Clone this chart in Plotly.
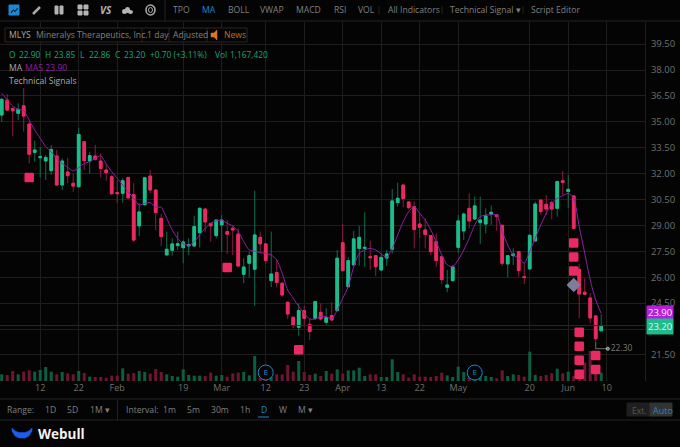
import plotly.graph_objects as go

bars = list(range(110))

opens = [35.39, 36.26, 35.78, 35.49, 35.93, 34.87, 33.23, 32.92, 32.73, 32.17,
         33.02, 31.34, 32.09, 31.44, 31.24, 33.85, 32.73, 33.02, 32.73, 32.21,
         31.82, 30.90, 30.86, 31.78, 30.78, 28.97, 30.20, 31.86, 31.05, 29.41,
         27.29, 27.56, 27.83, 27.71, 27.81, 27.81, 28.58, 29.95, 29.12, 28.41,
         29.03, 28.64, 28.83, 28.50, 26.17, 26.81, 26.46, 28.31, 27.93, 25.80,
         26.27, 25.65, 24.55, 23.68, 23.10, 24.07, 23.27, 23.62, 23.97, 23.39,
         23.78, 24.07, 28.00, 25.45, 26.71, 27.67, 27.67, 27.19, 27.25, 26.42,
         27.11, 27.62, 30.32, 31.34, 30.36, 30.09, 29.08, 28.74, 28.41, 28.06,
         27.19, 25.42, 25.80, 27.73, 28.68, 29.99, 29.37, 29.16, 29.08, 29.66,
         29.61, 29.01, 26.77, 27.25, 27.48, 26.03, 26.48, 28.10, 30.47, 30.22,
         30.32, 29.99, 31.59, 30.96, 30.71, 26.46, 25.13, 24.80, 23.76, 22.90]
highs = [36.40, 36.61, 35.78, 36.07, 36.96, 35.01, 33.91, 33.56, 33.08, 33.66,
         33.37, 32.88, 32.92, 32.01, 34.66, 33.85, 33.27, 33.66, 33.17, 32.56,
         31.92, 31.63, 31.73, 31.78, 31.44, 30.28, 31.82, 32.21, 31.09, 29.66,
         28.64, 28.25, 28.64, 28.16, 28.25, 29.55, 30.05, 29.95, 29.12, 29.35,
         29.60, 29.31, 29.03, 28.83, 27.10, 27.48, 31.01, 28.64, 27.93, 28.64,
         27.00, 25.74, 24.59, 23.72, 24.49, 24.34, 23.62, 24.59, 24.49, 24.20,
         24.55, 27.58, 29.08, 27.15, 28.68, 28.97, 29.76, 28.12, 27.25, 27.38,
         27.58, 31.11, 31.48, 31.34, 30.36, 30.38, 29.70, 29.41, 28.41, 28.54,
         27.19, 26.42, 26.71, 29.60, 29.74, 30.86, 30.67, 30.67, 29.99, 30.15,
         29.61, 29.01, 27.29, 27.68, 27.54, 26.81, 28.45, 30.38, 30.51, 30.76,
         30.44, 31.59, 32.15, 31.92, 30.71, 26.77, 25.94, 25.07, 23.76, 23.85]
lows = [35.01, 35.64, 34.18, 35.10, 34.43, 32.59, 32.69, 31.78, 31.63, 31.92,
        31.30, 31.05, 31.44, 30.95, 31.20, 32.21, 32.01, 32.75, 31.78, 31.59,
        30.76, 30.28, 30.32, 30.57, 28.05, 28.39, 30.18, 30.86, 28.73, 27.81,
        27.29, 27.25, 27.58, 26.81, 27.29, 27.77, 27.73, 28.64, 28.06, 28.25,
        27.48, 27.35, 27.29, 26.61, 25.65, 25.98, 24.34, 27.38, 26.77, 25.42,
        25.42, 24.88, 23.58, 23.04, 22.62, 23.14, 22.37, 23.52, 23.49, 23.24,
        23.52, 24.01, 26.32, 25.42, 26.67, 26.67, 26.61, 26.42, 26.07, 26.36,
        26.65, 27.38, 30.09, 30.05, 29.93, 27.66, 28.25, 27.67, 27.29, 26.61,
        25.59, 25.13, 25.74, 27.42, 28.16, 28.83, 29.31, 27.93, 28.54, 29.03,
        28.70, 26.65, 26.00, 26.71, 26.03, 25.61, 26.46, 28.06, 29.61, 29.61,
        29.35, 29.51, 30.76, 29.99, 28.79, 23.62, 24.97, 23.33, 22.30, 22.86]
closes = [36.30, 35.68, 35.64, 35.72, 35.33, 33.12, 33.37, 32.98, 32.94, 33.40,
          31.34, 32.73, 31.88, 31.28, 34.27, 32.75, 33.04, 32.83, 32.29, 32.05,
          30.84, 30.84, 31.59, 30.59, 28.15, 29.78, 31.76, 31.05, 29.74, 28.35,
          27.62, 27.93, 27.94, 28.04, 27.89, 28.93, 29.99, 29.20, 28.97, 29.31,
          29.31, 28.49, 28.74, 26.65, 26.59, 27.25, 28.45, 27.93, 26.96, 26.19,
          25.69, 24.97, 23.87, 23.20, 24.07, 23.62, 22.85, 24.59, 23.58, 23.66,
          23.52, 27.10, 26.38, 26.96, 28.22, 28.31, 27.73, 27.13, 26.61, 27.15,
          27.35, 30.42, 30.57, 30.55, 30.03, 28.76, 28.89, 28.47, 27.48, 26.96,
          25.86, 25.55, 26.61, 29.26, 29.66, 29.26, 30.13, 29.31, 29.55, 29.76,
          29.51, 26.81, 27.25, 27.35, 26.38, 25.98, 28.43, 30.24, 29.80, 29.95,
          29.95, 31.54, 31.48, 31.09, 28.83, 25.03, 25.01, 23.64, 22.44, 23.20]
ma5 = [36.65, 36.26, 35.91, 35.72, 35.64, 35.10, 34.52, 34.04, 33.56, 33.27,
       32.88, 32.59, 32.36, 32.15, 32.34, 32.59, 32.69, 32.88, 33.04, 32.56,
       32.11, 31.73, 31.34, 30.95, 30.57, 30.18, 30.28, 30.32, 30.05, 30.05,
       29.41, 28.74, 28.25, 27.93, 27.85, 28.06, 28.45, 28.83, 29.12, 29.26,
       29.31, 29.12, 28.97, 28.64, 28.06, 27.58, 27.52, 27.42, 27.38, 27.29,
       27.00, 26.23, 25.26, 24.78, 24.30, 23.91, 23.58, 23.58, 23.72, 23.72,
       23.58, 24.10, 24.78, 25.45, 26.61, 27.38, 27.58, 27.67, 27.58, 27.35,
       27.15, 27.67, 28.45, 29.22, 29.80, 30.09, 29.70, 29.31, 28.74, 28.06,
       27.29, 26.71, 26.61, 27.00, 27.58, 28.25, 29.03, 29.51, 29.60, 29.61,
       29.61, 28.64, 27.87, 27.29, 27.10, 26.81, 27.48, 28.25, 29.03, 29.70,
       30.28, 30.57, 30.72, 30.86, 30.57, 28.93, 27.39, 25.84, 24.68, 23.90]
# thousands of shares
volumes = [930, 840, 1400, 930, 1310, 1490, 1310, 1540, 1960, 1310,
           930, 1260, 1070, 930, 1400, 1120, 610, 560, 560, 470,
           750, 750, 1770, 1030, 1120, 1400, 1260, 1030, 1680, 1260,
           930, 700, 610, 1630, 840, 750, 750, 700, 1170, 750,
           840, 610, 1070, 1170, 1260, 790, 3500, 470, 700, 560,
           930, 930, 2240, 1310, 2800, 1260, 840, 1030, 700, 1400,
           1030, 1630, 1030, 1490, 1490, 1870, 700, 930, 930, 560,
           560, 3040, 1260, 930, 470, 930, 610, 610, 560, 700,
           1170, 790, 560, 2010, 1260, 560, 560, 700, 700, 560,
           370, 1490, 700, 930, 840, 610, 4110, 840, 700, 840,
           1070, 1730, 1070, 1310, 700, 1400, 2570, 4200, 1870, 1167]

date_ticks = [7, 14, 21, 33, 40, 48, 55, 62, 69, 76, 83, 96, 103, 110]
date_labels = ['12', '22', 'Feb', '19', 'Mar', '12', '23', 'Apr', '13', '22', 'May', '20', 'Jun', '10']
price_ticks = [39.5, 38, 36.5, 35, 33.5, 32, 30.5, 29, 27.5, 26, 24.5, 23, 21.5]
price_labels = ['39.50', '38.00', '36.50', '35.00', '33.50', '32.00', '30.50', '29.00',
                '27.50', '26.00', '24.50', '', '21.50']

signal_bars = [5, 41, 54, 104, 104, 104, 105, 105, 105, 105, 108, 108]
signal_prices = [31.78, 26.57, 21.80, 27.98, 27.17, 26.36, 22.81, 22.00, 21.19, 20.38, 21.46, 20.65]
diamond_bar = [104]
diamond_price = [25.55]
earnings_bars = [48, 86]
earnings_prices = [20.48, 20.48]

GREEN = '#1cbc8c'
RED = '#ea2a62'
GREEN_DIM = '#0f6e52'
RED_DIM = '#8c1c42'
GREY = '#808080'
BLUE = '#1f86cf'
W, H = 680, 447


def px(x):
    return x / W


def py(y):
    return 1 - y / H


fig = go.Figure()

vol_colors = ['#0d5d45' if c >= o else '#6c1634' for o, c in zip(opens, closes)]
fig.add_trace(go.Bar(x=bars, y=volumes, marker_color=vol_colors, marker_line_width=0, yaxis='y'))

# thin dark wicks first, bright bodies over them
fig.add_trace(go.Candlestick(x=bars, open=opens, high=highs, low=lows, close=closes, yaxis='y2',
                             whiskerwidth=0,
                             increasing=dict(line=dict(color=GREEN_DIM, width=1), fillcolor=GREEN),
                             decreasing=dict(line=dict(color=RED_DIM, width=1), fillcolor=RED)))
body_high = [max(o, c) for o, c in zip(opens, closes)]
body_low = [min(o, c) for o, c in zip(opens, closes)]
fig.add_trace(go.Candlestick(x=bars, open=opens, high=body_high, low=body_low, close=closes, yaxis='y2',
                             whiskerwidth=0,
                             increasing=dict(line=dict(color=GREEN, width=1), fillcolor=GREEN),
                             decreasing=dict(line=dict(color=RED, width=1), fillcolor=RED)))

fig.add_trace(go.Scatter(x=bars, y=ma5, mode='lines', yaxis='y2',
                         line=dict(color='#8f20a8', width=1, shape='spline', smoothing=0.6)))
fig.add_trace(go.Scatter(x=signal_bars, y=signal_prices, mode='markers', yaxis='y2',
                         marker=dict(symbol='square', size=7, color=RED, line=dict(color=RED, width=2.5))))
fig.add_trace(go.Scatter(x=diamond_bar, y=diamond_price, mode='markers', yaxis='y2',
                         marker=dict(symbol='diamond', size=9, color='#7d7d9c', line=dict(color='#7d7d9c', width=2))))
fig.add_trace(go.Scatter(x=earnings_bars, y=earnings_prices, mode='markers+text', yaxis='y2',
                         text=['E', 'E'], textposition='middle center',
                         textfont=dict(color=BLUE, size=8, family='Open Sans'),
                         marker=dict(symbol='circle', size=15, color='#050505', line=dict(color=BLUE, width=1))))
# day-low callout
fig.add_trace(go.Scatter(x=[108, 108, 110.2], y=[22.27, 21.86, 21.86], mode='lines+markers+text', yaxis='y2',
                         line=dict(color='#8a8a8a', width=0.8),
                         marker=dict(size=[0, 0, 3], color='#8a8a8a'),
                         text=['', '', '22.30'], textposition='middle right',
                         textfont=dict(color='#777777', size=8.5, family='Open Sans')))

fig.update_layout(
    width=W, height=H,
    margin=dict(l=0, r=0, t=0, b=0),
    paper_bgcolor='#040404', plot_bgcolor='#040404',
    showlegend=False, bargap=0.45, boxgap=0.3,
    font=dict(family='Open Sans', color=GREY, size=9),
    xaxis=dict(domain=[0, px(645)], range=[-0.31, 116.96], tickmode='array',
               tickvals=date_ticks, ticktext=date_labels, rangeslider=dict(visible=False),
               showgrid=True, gridcolor='#1e1e1e', gridwidth=1, zeroline=False,
               tickfont=dict(size=9, color='#707070'), ticks=''),
    yaxis=dict(domain=[py(381), py(22)], range=[0, 50260], visible=False, showgrid=False, fixedrange=True),
    yaxis2=dict(domain=[py(381), py(22)], range=[19.99, 40.78], overlaying='y', side='right', anchor='x',
                tickmode='array', tickvals=price_ticks, ticktext=price_labels,
                showgrid=True, gridcolor='#1e1e1e', gridwidth=1, zeroline=False,
                showline=True, linecolor='#1e1e1e', linewidth=1,
                ticks='outside', ticklen=3, tickcolor='rgba(0,0,0,0)',
                tickfont=dict(size=9.5, color='#707070')),
)


def label(x, y, text, color=GREY, size=8.6, anchor='left', family='Open Sans'):
    fig.add_annotation(x=px(x), y=py(y), xref='paper', yref='paper', text=text, showarrow=False,
                       xanchor=anchor, yanchor='middle', borderpad=0,
                       font=dict(color=color, size=size, family=family))


def rule(x0, y0, x1, y1, color='#222222', width=1):
    fig.add_shape(type='line', xref='paper', yref='paper', x0=px(x0), y0=py(y0), x1=px(x1), y1=py(y1),
                  line=dict(color=color, width=width), layer='above')


def box(x0, y0, x1, y1, fill, line=None):
    fig.add_shape(type='rect', xref='paper', yref='paper', x0=px(x0), y0=py(y0), x1=px(x1), y1=py(y1),
                  fillcolor=fill, line=dict(color=line or fill, width=1), layer='above')


def blob(points, fill):
    path = 'M ' + ' L '.join('{:.4f},{:.4f}'.format(px(a), py(b)) for a, b in points) + ' Z'
    fig.add_shape(type='path', xref='paper', yref='paper', path=path, fillcolor=fill,
                  line=dict(color=fill, width=0.5), layer='above')


# toolbar
rule(0, 21, W, 21)
rule(165, 0, 165, 21)
for name, x in [('TPO', 172), ('BOLL', 227), ('VWAP', 259), ('MACD', 295), ('RSI', 333), ('VOL', 357),
                ('All Indicators', 387), ('Technical Signal ▾', 449), ('Script Editor', 530)]:
    label(x, 10, name)
label(201, 10, 'MA', color=BLUE)
for x in [379, 442, 523]:
    rule(x, 6, x, 14)

# toolbar icons
box(9, 5, 19, 15, BLUE)
blob([(11, 12), (13.5, 9.5), (15, 11), (17.5, 8), (17.5, 9), (15, 12), (13.5, 10.5), (11, 13)], '#06233a')
rule(33, 14, 40, 7, color='#a8a8a8', width=2.5)
box(55, 6, 58, 14, '#b4b4b4')
box(60, 6, 63, 14, '#b4b4b4')
for a, b in [(78, 5), (84, 5), (78, 11), (84, 11)]:
    box(a, b, a + 4, b + 4, '#b4b4b4')
label(99, 10, '<b><i>VS</i></b>', color='#b4b4b4', size=10)
for a, b, c, d in [(122, 9, 127, 14), (125, 7, 130, 13), (128, 10, 133, 14)]:
    fig.add_shape(type='circle', xref='paper', yref='paper', x0=px(a), y0=py(b), x1=px(c), y1=py(d),
                  fillcolor='#b4b4b4', line=dict(color='#b4b4b4', width=0), layer='above')
fig.add_shape(type='circle', xref='paper', yref='paper', x0=px(146), y0=py(5), x1=px(155), y1=py(15),
              line=dict(color='#a8a8a8', width=1.6), layer='above')
fig.add_shape(type='circle', xref='paper', yref='paper', x0=px(148.5), y0=py(7.5), x1=px(152.5), y1=py(12.5),
              line=dict(color='#a8a8a8', width=1), layer='above')

# symbol box
box(5, 28, 247, 42, '#040404', line='#262626')
for x in [142, 169, 207]:
    rule(x, 28, x, 42, color='#262626')
label(8, 35, 'MLYS', color='#a8a8a8')
label(35, 35, 'Mineralys Therapeutics, Inc.', color='#808080')
label(146, 35, '1 day')
label(172, 35, 'Adjusted')
blob([(211, 33), (214, 33), (217, 30), (217, 40), (214, 37), (211, 37)], '#d9781f')
label(223, 35, 'News', color='#c96a1c')

# ohlc rows
quote = '#17a47b'
for text, x in [('O', 8), ('22.90', 18), ('H', 44), ('23.85', 53), ('L', 79), ('22.86', 88), ('C', 114),
                ('23.20', 123), ('+0.70 (+3.11%)', 149), ('Vol', 214), ('1,167,420', 229)]:
    label(x, 54, text, color=quote, size=8.4)
label(8, 68, 'MA', color='#a8a8a8')
label(24, 68, 'MA5 23.90', color='#8e1fa8')
label(8, 81, 'Technical Signals', color='#a8a8a8')

# last price tags
fig.add_shape(type='line', xref='paper', yref='y2', x0=0, x1=px(645), y0=closes[-1], y1=closes[-1],
              line=dict(color='#2a2a2a', width=1))
box(647, 306, 673, 319, '#b51fdc')
box(647, 319, 673, 334, GREEN)
label(660, 312.5, '23.90', color='#f0f0f0', size=9.5, anchor='center')
label(660, 326.5, '23.20', color='#f0f0f0', size=9.5, anchor='center')

# bottom bar
rule(0, 399, W, 399)
rule(0, 420, W, 420)
rule(117.5, 400, 117.5, 420)
for name, x in [('Range:', 6), ('1D', 44), ('5D', 66), ('1M ▾', 89), ('Interval:', 125), ('1m', 162), ('5m', 186),
                ('30m', 210), ('1h', 239), ('W', 278), ('M ▾', 297)]:
    label(x, 410, name)
label(260, 410, 'D', color=BLUE)
rule(258, 417, 269, 417, color=BLUE)
box(627, 403, 650, 416, '#1e1e1e')
box(650, 403, 672, 416, '#333333')
label(631, 410, 'Ext.', color='#555555', size=8.5)
label(652, 410, 'Auto', color=BLUE, size=9)

# logo
blob([(12, 428), (15, 431), (19, 432.5), (25, 432.5), (29, 431), (32, 428), (32, 431), (29, 436),
      (25, 438), (19, 438), (15, 436), (12, 431)], '#1c5cf0')
label(37, 434, '<b>Webull</b>', color='#f2f2f2', size=13.5)

# the page's default body margin would push the chart 8px in; round joins give the soft-cornered signal marks
page_fix = ("document.body.style.margin='0';document.body.style.background='#040404';"
            "document.querySelectorAll('path.point').forEach(function(p){p.style.strokeLinejoin='round';});")
fig.write_html("out.html", post_script=page_fix, config=dict(displayModeBar=False))
